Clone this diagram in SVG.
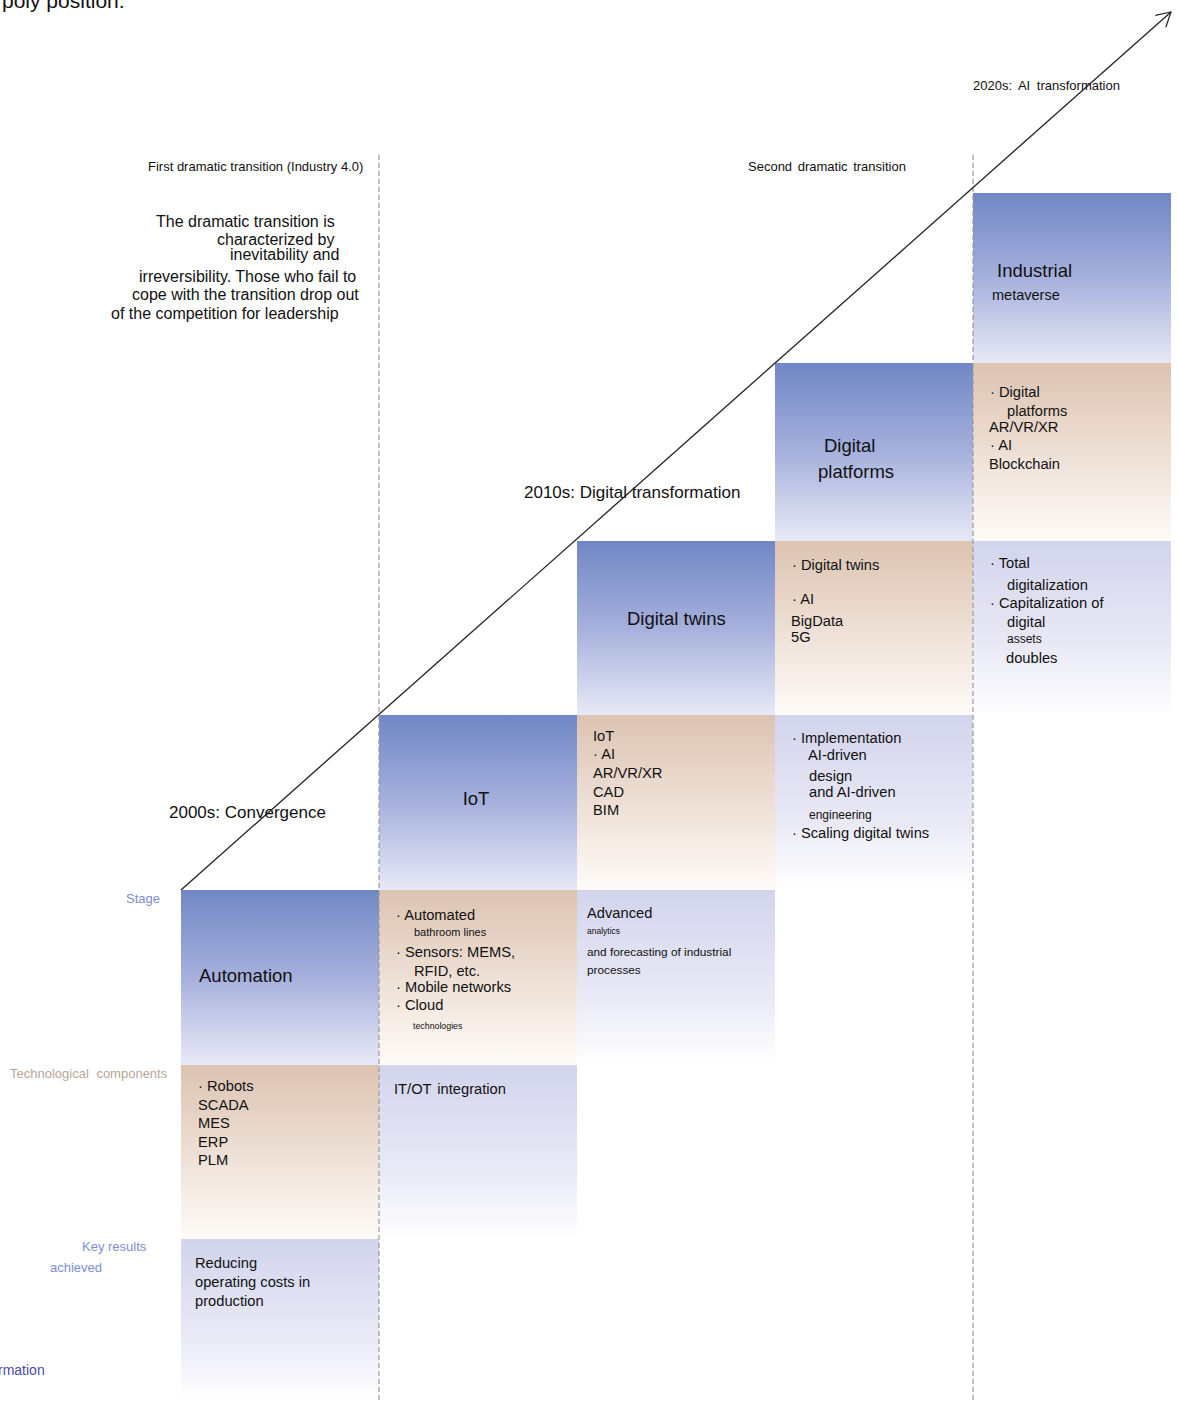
<svg xmlns="http://www.w3.org/2000/svg" width="1178" height="1401" viewBox="0 0 1178 1401">
<style>
text{font-family:"Liberation Sans",Arial,sans-serif;fill:#111}
.t14{font-size:14.7px}
.t13{font-size:13px}
.lbl{font-size:13px;fill:#7c8fd2}
.stage{font-size:18.5px}
.dash{stroke:#9a9a9a;stroke-width:1.2;stroke-dasharray:5 3;fill:none}
</style>
<defs>
<linearGradient id="gStage" x1="0" y1="0" x2="0" y2="1">
<stop offset="0" stop-color="#7187c5"/>
<stop offset="0.5" stop-color="#a6b0dc"/>
<stop offset="1" stop-color="#e8e9f6"/>
</linearGradient>
<linearGradient id="gTech" x1="0" y1="0" x2="0" y2="1">
<stop offset="0" stop-color="#dcc3b2"/>
<stop offset="0.55" stop-color="#efe2d8"/>
<stop offset="1" stop-color="#fefbf8"/>
</linearGradient>
<linearGradient id="gRes" x1="0" y1="0" x2="0" y2="1">
<stop offset="0" stop-color="#d2d4ec"/>
<stop offset="0.6" stop-color="#e9e9f6"/>
<stop offset="1" stop-color="#ffffff"/>
</linearGradient>
<marker id="arr" markerWidth="20" markerHeight="20" refX="16" refY="8" orient="auto" markerUnits="userSpaceOnUse">
<path d="M2,0 L16,8 L2,16" fill="none" stroke="#222" stroke-width="1.2"/>
</marker>
</defs>
<rect width="1178" height="1401" fill="#fff"/>

<text x="2" y="8" style="font-size:21px">poly position.</text>
<text x="-2" y="1375" style="font-size:14px;fill:#4b4ba3">rmation</text>

<text class="lbl" x="126" y="903">Stage</text>
<text class="t13" x="10" y="1078" style="fill:#b9a597;word-spacing:4px">Technological components</text>
<text class="lbl" x="82" y="1251">Key results</text>
<text class="lbl" x="50" y="1272">achieved</text>

<text class="t13" x="148" y="171">First dramatic transition (Industry 4.0)</text>
<text class="t13" x="748" y="171" style="word-spacing:2px">Second dramatic transition</text>
<text class="t13" x="973" y="90" style="word-spacing:3px">2020s: AI transformation</text>

<g id="note" style="font-size:16px">
<text x="156" y="227">The dramatic transition is</text>
<text x="217" y="245">characterized by</text>
<text x="230" y="260">inevitability and</text>
<text x="139" y="282">irreversibility. Those who fail to</text>
<text x="132" y="300">cope with the transition drop out</text>
<text x="111" y="319">of the competition for leadership</text>
</g>

<text x="169" y="818" style="font-size:17px">2000s: Convergence</text>
<text x="524" y="498" style="font-size:17px">2010s: Digital transformation</text>

<!-- column 1 -->
<g id="c1-stage"><rect x="181" y="890" width="198" height="175" fill="url(#gStage)"/><text class="stage" x="199" y="982">Automation</text></g>
<g id="c1-tech"><rect x="181" y="1065" width="198" height="174" fill="url(#gTech)"/>
<text class="t14" x="198" y="1091">· Robots</text><text class="t14" x="198" y="1110">SCADA</text><text class="t14" x="198" y="1128">MES</text><text class="t14" x="198" y="1147">ERP</text><text class="t14" x="198" y="1165">PLM</text></g>
<g id="c1-res"><rect x="181" y="1239" width="198" height="162" fill="url(#gRes)"/>
<text class="t14" x="195" y="1268">Reducing</text><text class="t14" x="195" y="1287">operating costs in</text><text class="t14" x="195" y="1306">production</text></g>

<!-- column 2 -->
<g id="c2-stage"><rect x="379" y="715" width="198" height="175" fill="url(#gStage)"/><text class="stage" x="476" y="805" text-anchor="middle">IoT</text></g>
<g id="c2-tech"><rect x="379" y="890" width="198" height="175" fill="url(#gTech)"/>
<text class="t14" x="396" y="920">· Automated</text>
<text x="414" y="936" style="font-size:11px">bathroom lines</text>
<text class="t14" x="396" y="957">· Sensors: MEMS,</text>
<text class="t14" x="414" y="976">RFID, etc.</text>
<text class="t14" x="396" y="992">· Mobile networks</text>
<text class="t14" x="396" y="1010">· Cloud</text>
<text x="413" y="1029" style="font-size:8.8px">technologies</text></g>
<g id="c2-res"><rect x="379" y="1065" width="198" height="174" fill="url(#gRes)"/>
<text class="t14" x="394" y="1094" style="word-spacing:2px">IT/OT integration</text></g>

<!-- column 3 -->
<g id="c3-stage"><rect x="577" y="541" width="198" height="174" fill="url(#gStage)"/><text x="627" y="625" style="font-size:18.5px">Digital twins</text></g>
<g id="c3-tech"><rect x="577" y="715" width="198" height="175" fill="url(#gTech)"/>
<text class="t14" x="593" y="741">IoT</text><text class="t14" x="593" y="759">· AI</text><text class="t14" x="593" y="778">AR/VR/XR</text><text class="t14" x="593" y="797">CAD</text><text class="t14" x="593" y="815">BIM</text></g>
<g id="c3-res"><rect x="577" y="890" width="198" height="175" fill="url(#gRes)"/>
<text class="t14" x="587" y="918">Advanced</text>
<text x="587" y="934" style="font-size:8.5px">analytics</text>
<text x="587" y="956" style="font-size:11.8px">and forecasting of industrial</text>
<text x="587" y="974" style="font-size:11.8px">processes</text></g>

<!-- column 4 -->
<g id="c4-stage"><rect x="775" y="363" width="198" height="178" fill="url(#gStage)"/>
<text class="stage" x="824" y="452">Digital</text><text class="stage" x="818" y="478">platforms</text></g>
<g id="c4-tech"><rect x="775" y="541" width="198" height="174" fill="url(#gTech)"/>
<text class="t14" x="792" y="570">· Digital twins</text><text class="t14" x="792" y="604">· AI</text><text class="t14" x="791" y="626">BigData</text><text class="t14" x="791" y="642">5G</text></g>
<g id="c4-res"><rect x="775" y="715" width="198" height="175" fill="url(#gRes)"/>
<text class="t14" x="792" y="743">· Implementation</text>
<text class="t14" x="808" y="760">AI-driven</text>
<text class="t14" x="809" y="781">design</text>
<text class="t14" x="809" y="797">and AI-driven</text>
<text x="809" y="819" style="font-size:12px">engineering</text>
<text class="t14" x="792" y="838">· Scaling digital twins</text></g>

<!-- column 5 -->
<g id="c5-stage"><rect x="973" y="193" width="198" height="170" fill="url(#gStage)"/>
<text class="stage" x="997" y="277">Industrial</text><text x="992" y="300" style="font-size:14.5px">metaverse</text></g>
<g id="c5-tech"><rect x="973" y="363" width="198" height="178" fill="url(#gTech)"/>
<text class="t14" x="990" y="397">· Digital</text><text class="t14" x="1007" y="416">platforms</text><text class="t14" x="989" y="432">AR/VR/XR</text><text class="t14" x="990" y="450">· AI</text><text class="t14" x="989" y="469">Blockchain</text></g>
<g id="c5-res"><rect x="973" y="541" width="198" height="174" fill="url(#gRes)"/>
<text class="t14" x="990" y="568">· Total</text>
<text class="t14" x="1007" y="590">digitalization</text>
<text class="t14" x="990" y="608">· Capitalization of</text>
<text class="t14" x="1007" y="627">digital</text>
<text x="1007" y="643" style="font-size:12px">assets</text>
<text class="t14" x="1006" y="663">doubles</text></g>

<g id="connectors">
<line class="dash" x1="379" y1="155" x2="379" y2="1401"/>
<line class="dash" x1="973" y1="155" x2="973" y2="1401"/>
<line x1="181" y1="890" x2="1171" y2="12" stroke="#222" stroke-width="1.3" marker-end="url(#arr)"/>
</g>
</svg>
